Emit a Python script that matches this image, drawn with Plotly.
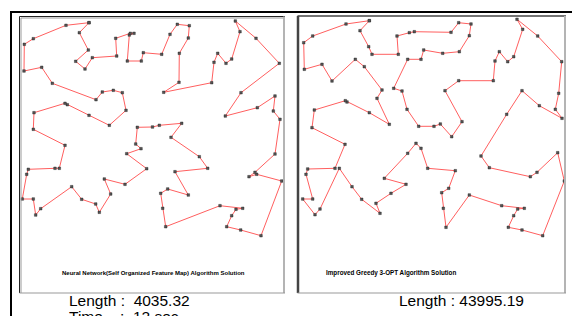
import plotly.graph_objects as go

W, H = 572, 316

# ---- Data: tour vertices (panel-local coordinates, y grows downward) ----
nn_x = [69, 46, 13.3, 4.3, 4, 21.7, 32.3, 76, 82.3, 93.3, 102.3, 106, 89.3, 69, 47.3, 45, 14, 13.3,
        45, 39.3, 35, 8.3, 6.7, 2.3, 13.3, 15.7, 20.7, 51.7, 61.7, 75.7, 79.3, 90.7, 84.3, 105,
        126.7, 106.7, 121, 115.7, 117.3, 132.5, 139.3, 161.7, 151, 179.3, 187.7, 155, 168.3, 147.7,
        140.7, 142.7, 145.7, 200, 222.7, 216, 211.7, 206.7, 220.7, 241, 261.7, 236.7, 229, 235,
        255, 260, 253.3, 255, 237.3, 205.3, 221, 259.3, 236, 215.3, 220, 211.7, 206, 197.7, 194,
        191.7, 143.7, 159, 159.3, 168.3, 169.3, 157.3, 150, 141.7, 123.3, 121.3, 107.3, 109.3, 114,
        110.3, 95.7, 96.7, 72.3, 65, 55.7, 68.3, 59.3]
nn_y = [5.7, 8.3, 21.7, 27.3, 54, 50.3, 66.3, 82.7, 75, 73.3, 75.7, 93.3, 108.3, 98.3, 87.7, 86.3,
        95.7, 112.3, 128.3, 151.3, 151.3, 152.3, 157.3, 182, 182, 198, 191.7, 169.7, 182.3, 187,
        195.3, 177, 162, 167.3, 151.7, 136.7, 131.7, 127, 110.3, 110, 108.3, 106.3, 120.3, 139.7,
        151.3, 154.7, 178, 172, 176.3, 191.3, 209.7, 188.7, 191.3, 192.3, 198.7, 209.7, 213, 218.7,
        164, 157.3, 159.7, 155.3, 137, 102.3, 94, 79, 90.7, 99, 75.7, 46.3, 21.3, 4, 14.7, 42, 46.3,
        36.3, 45.3, 65.7, 75.3, 65.3, 36.3, 21, 8.7, 7.3, 17.3, 37.3, 35.7, 44, 44, 18, 16.3, 16.3,
        21.3, 39, 40.7, 52, 44.3, 33, 15.7]

g3_x = [71.3, 48, 14.7, 5.7, 6.3, 24, 34, 57.3, 66.3, 84, 79, 91.3, 71.3, 49, 47.3, 16.3, 14, 47,
        37, 9.7, 8, 14.7, 4.7, 17, 22, 41.3, 54, 63.7, 82, 78, 93, 108, 86.3, 109.7, 118, 123,
        129.7, 157.3, 150.7, 143.7, 145.3, 148, 171.3, 203.7, 226.3, 219.7, 215.7, 210.3, 224,
        244.7, 266.3, 259.7, 239, 232.3, 191.3, 183, 208.7, 224, 241.3, 264, 257.3, 260.7, 263.7,
        239.7, 219, 224.7, 215.7, 209.7, 201.3, 197, 195.3, 160.7, 147, 164, 153.7, 142.3, 136,
        120.7, 109, 104, 95.7, 109.7, 123, 125.7, 144.7, 161.3, 171.3, 173, 160.7, 153, 116.3,
        111.3, 99, 100.3, 74, 70.7, 62]
g3_y = [4.7, 8, 20, 26.7, 53.3, 48.3, 65, 43.3, 50.7, 74, 82.3, 108.3, 96.7, 86, 84.7, 94, 111.7,
        128.3, 152.3, 153, 158.3, 183, 183, 198.7, 193, 152.3, 170.7, 183.3, 197.3, 187.3, 177.3,
        168.3, 162.3, 137.3, 127.3, 132.3, 152.3, 154.7, 172.3, 176.7, 192.3, 211.3, 179, 189.7,
        192.3, 193, 199.7, 211.3, 214, 219.7, 165, 136.7, 156.3, 160.7, 151.7, 140, 98.3, 74.7,
        89.7, 102.3, 93.3, 77.3, 45.7, 20, 3.3, 13.3, 40.7, 45.7, 35.7, 45, 64.7, 64.7, 74.7,
        105.7, 120.7, 108, 110.3, 110.3, 93.3, 75, 72.3, 43.3, 43.3, 34, 37.3, 35.7, 19.7, 8, 6.7,
        16.3, 15.7, 16.7, 20, 38.3, 38.3, 30.7, 14.7]

captions = ["Neural Network(Self Organized Feature Map) Algorithm Solution",
            "Improved Greedy 3-OPT Algorithm Solution"]
length_labels = ["Length :\u00a0\u00a04035.32", "Length : 43995.19"]
time_label = ["Time", ":\u00a0\u00a012 sec"]

LINE = "rgb(255,95,95)"
MARK = "#555555"


def closed(v):
    return list(v) + [v[0]]


def px(x):
    return x / W


def py(y):
    return (H - y) / H


fig = go.Figure()
for xs, ys, ax in [(nn_x, nn_y, ""), (g3_x, g3_y, "2")]:
    fig.add_trace(go.Scatter(
        x=closed(xs), y=closed(ys), mode="lines+markers",
        line=dict(color=LINE, width=1),
        marker=dict(symbol="square", size=2.6, color=MARK, line=dict(width=0.4, color="#222")),
        xaxis="x" + ax, yaxis="y" + ax, showlegend=False, hoverinfo="skip"))

# panel boxes in page pixels
L = dict(x0=20, x1=284, y0=17, y1=292)
R = dict(x0=298, x1=565, y0=16, y1=292)

ax_common = dict(visible=False, fixedrange=True, showgrid=False, zeroline=False)
fig.update_layout(
    width=W, height=H, margin=dict(l=0, r=0, t=0, b=0),
    paper_bgcolor="white", plot_bgcolor="white",
    xaxis=dict(domain=[px(L["x0"]), px(L["x1"])], range=[0, L["x1"] - L["x0"]], **ax_common),
    yaxis=dict(domain=[py(L["y1"]), py(L["y0"])], range=[L["y1"] - L["y0"], 0], **ax_common),
    xaxis2=dict(domain=[px(R["x0"]), px(R["x1"])], range=[0, R["x1"] - R["x0"]], **ax_common),
    yaxis2=dict(domain=[py(R["y1"]), py(R["y0"])], range=[R["y1"] - R["y0"], 0], **ax_common),
)


def seg(x0, y0, x1, y1, color, width):
    fig.add_shape(type="line", xref="paper", yref="paper",
                  x0=px(x0), y0=py(y0), x1=px(x1), y1=py(y1),
                  line=dict(color=color, width=width), layer="above")


# outer black frame (top and left)
seg(10, 12, 572, 12, "#000", 2)
seg(11, 11, 11, 316, "#000", 2)
# left panel frame
seg(19.5, 16.5, 285, 16.5, "#222", 1)
seg(21, 18, 284, 18, "#999", 1)
seg(19.5, 16.5, 19.5, 293, "#222", 1)
seg(21, 18, 21, 293, "#999", 1)
seg(284, 16.5, 284, 293, "#b4b4b4", 2)
seg(19.5, 293, 285, 293, "#999", 1)
# right panel frame
seg(297.5, 16, 566, 16, "#444", 1.5)
seg(298, 16, 298, 293, "#444", 2.5)
seg(565, 16, 565, 293, "#b4b4b4", 2)
seg(297.5, 293, 566, 293, "#999", 1)

FONT = "Liberation Sans, Arial, sans-serif"


def text(x, y, s, size, xanchor="left", bold=False):
    fig.add_annotation(xref="paper", yref="paper", x=px(x), y=py(y), text=("<b>%s</b>" % s) if bold else s,
                       showarrow=False, xanchor=xanchor, yanchor="middle",
                       font=dict(family=FONT, size=size, color="#000"))


text(153.8, 272.6, captions[0], 6, xanchor="center", bold=True)
text(324, 272.6, captions[1], 6.3, bold=True)
text(67, 300, length_labels[0], 15.5)
text(397, 300, length_labels[1], 15.5)
text(67, 316, time_label[0], 15.5)
text(118, 316, time_label[1], 15.5)

fig.write_html("out.html", config={"displayModeBar": False},
               post_script="document.body.style.margin='0';document.body.style.overflow='hidden';")
